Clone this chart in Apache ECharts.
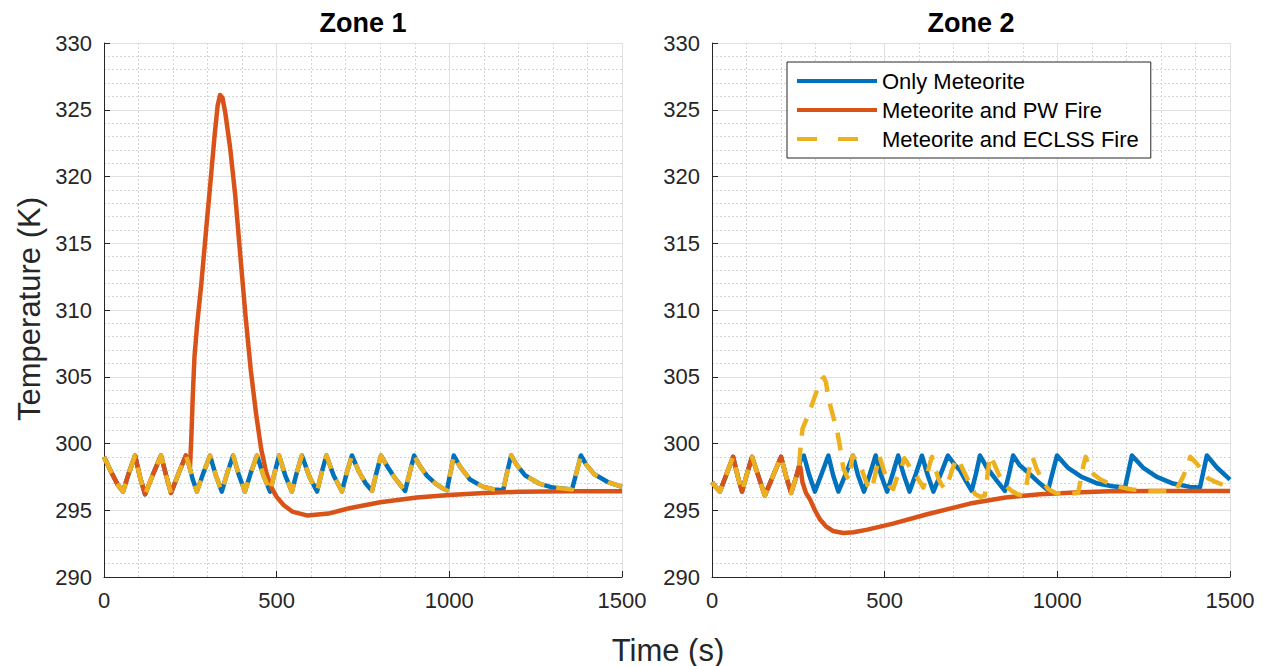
<!DOCTYPE html>
<html>
<head>
<meta charset="utf-8">
<title>Zone temperatures</title>
<script src="https://cdn.jsdelivr.net/npm/echarts@6/dist/echarts.min.js"></script>
<style>
  html, body { margin: 0; padding: 0; background: #ffffff; }
  #chart { width: 1269px; height: 666px; }
</style>
</head>
<body>
<div id="chart"></div>
<script>
// ---- Data: [time (s), temperature (K)] ----
const seriesNames = ['Only Meteorite', 'Meteorite and PW Fire', 'Meteorite and ECLSS Fire'];
const xTicks = { min: 0, max: 1500, step: 500 };
const yTicks = { min: 290, max: 330, step: 5 };

// Zone 1: common history before the events diverge
const zone1Early = [[0,299.0],[20,297.9],[40,296.9],[55,296.4],[72,297.8],[90,299.1],[105,297.4],[119,296.2],
  [142,297.7],[165,299.1],[180,297.6],[194,296.3],[215,297.7],[237,299.1],[245,298.5]];

const zone1Meteorite = [[257,297.3],[269,296.4],[288,297.8],[307,299.1],[324,297.6],[341,296.4],[357,297.8],
  [374,299.1],[391,297.6],[408,296.4],[425,297.8],[443,299.1],[462,297.6],[481,296.4],[494,297.8],[507,299.1],
  [525,297.6],[544,296.4],[558,297.8],[573,299.1],[595,297.5],[617,296.4],[630,297.8],[644,299.1],[665,297.6],
  [689,296.4],[703,297.8],[718,299.1],[738,297.9],[758,297.0],[776,296.45],[789,297.8],[802,299.1],[820,298.3],
  [840,297.5],[858,296.9],[872,296.45],[885,297.8],[898,299.1],[915,298.3],[935,297.6],[960,297.0],[980,296.65],
  [993,296.5],[1003,297.8],[1013,299.1],[1030,298.3],[1060,297.3],[1098,296.75],[1130,296.55],[1156,296.5],
  [1167,297.8],[1179,299.1],[1195,298.4],[1220,297.6],[1260,297.0],[1300,296.7],[1355,296.55],[1368,297.8],
  [1381,299.1],[1397,298.4],[1420,297.7],[1460,297.1],[1500,296.75]];

const zone1PwFire = [[249,298.2],[253,300.5],[257,303.5],[262,306.5],[270,309.0],[282,312.0],[295,315.8],
  [308,319.5],[320,323.0],[329,325.3],[336,326.1],[343,325.9],[351,324.8],[365,322.2],[380,318.6],[395,314.0],
  [410,309.5],[425,305.5],[440,302.3],[455,299.6],[470,297.8],[485,296.7],[500,296.0],[520,295.4],[545,294.9],
  [590,294.6],[650,294.75],[710,295.15],[800,295.6],[906,295.95],[1000,296.15],[1100,296.3],[1200,296.38],
  [1350,296.42],[1500,296.42]];

// In zone 1 the ECLSS fire run follows the meteorite-only run
const zone1EclssFire = zone1Meteorite;

// Zone 2: common history before the events diverge
const zone2Early = [[0,297.1],[12,296.7],[23,296.4],[42,297.7],[61,299.0],[74,297.6],[87,296.4],[101,297.7],
  [116,299.0],[135,297.5],[153,296.1],[177,297.6],[200,299.0],[214,297.6],[229,296.3],[245,297.6],[252,298.3]];

const zone2Meteorite = [[258,298.9],[266,299.1],[282,297.6],[298,296.4],[317,297.7],[337,299.1],[351,297.6],
  [366,296.4],[387,297.7],[408,299.1],[423,297.6],[440,296.4],[457,297.7],[474,299.1],[490,297.6],[507,296.4],
  [523,297.7],[539,299.1],[556,297.6],[572,296.4],[590,297.7],[608,299.1],[625,297.6],[641,296.4],[662,297.7],
  [683,299.1],[700,298.5],[718,298.0],[735,297.2],[752,296.45],[764,297.7],[776,299.1],[796,298.2],[825,297.2],
  [848,296.45],[860,297.7],[872,299.1],[890,298.4],[912,297.9],[950,297.0],[973,296.5],[986,297.8],[999,299.1],
  [1030,298.2],[1070,297.5],[1117,297.0],[1160,296.8],[1196,296.7],[1206,297.9],[1216,299.1],[1248,298.2],
  [1288,297.5],[1335,297.0],[1384,296.75],[1413,296.7],[1423,297.9],[1433,299.1],[1462,298.2],[1500,297.3]];

const zone2PwFire = [[256,298.2],[262,297.1],[272,296.3],[284,295.8],[298,295.0],[313,294.3],[330,293.8],
  [350,293.45],[380,293.3],[410,293.35],[450,293.55],[524,294.0],[623,294.7],[747,295.5],[850,295.95],
  [950,296.2],[1050,296.33],[1150,296.42],[1300,296.45],[1500,296.45]];

const zone2EclssFire = [[257,299.9],[262,301.1],[270,301.6],[280,302.2],[292,303.1],[307,304.2],[318,304.8],
  [324,304.95],[330,304.6],[337,303.4],[350,302.1],[362,301.0],[371,299.7],[380,298.2],[391,297.5],[397,297.3],
  [407,299.1],[420,298.6],[434,298.0],[450,296.9],[462,296.5],[472,297.6],[484,299.1],[500,297.8],[515,296.8],
  [525,296.6],[535,297.4],[550,298.3],[557,298.9],[565,298.6],[575,298.1],[590,297.6],[605,297.0],[612,296.7],
  [620,297.4],[632,298.6],[637,299.0],[645,298.3],[655,297.4],[665,296.9],[675,296.6],[685,297.2],[695,298.0],
  [708,298.9],[712,298.8],[722,298.3],[735,297.6],[750,296.8],[762,296.2],[778,296.0],[790,296.1],[797,297.5],
  [805,299.1],[815,298.6],[830,297.7],[845,297.0],[865,296.5],[885,296.2],[900,296.1],[908,296.5],[918,298.0],
  [928,299.0],[940,298.1],[955,297.3],[973,296.6],[995,296.3],[1022,296.2],[1060,296.3],[1068,297.3],[1075,298.3],
  [1082,299.0],[1092,298.3],[1105,297.7],[1125,297.3],[1150,297.0],[1180,296.75],[1216,296.55],[1274,296.45],
  [1340,296.45],[1352,296.9],[1364,297.5],[1378,298.4],[1385,299.0],[1400,298.6],[1413,298.2],[1436,297.4],
  [1460,297.1],[1480,296.9],[1500,296.75]];

// ---- Styling ----
const COLORS = ['#0072BD', '#D95319', '#EDB120'];
const FONT = "'Liberation Sans', Arial, Helvetica, sans-serif";
const AXIS_COLOR = '#262626';
const LINE_WIDTH = 4.5;
const DASH = [18, 12];
// Legend samples: a solid bar, and a bar with two dashes (the trailing zero-area
// sub-path keeps the icon's bounding box at the full sample width)
const ICON_SOLID = 'path://M0,0H80V4H0Z';
const ICON_DASHED = 'path://M0,0H20V4H0Z M41,0H61V4H41Z M80,0L80,4L80,0Z';

function makeXAxis(gridIndex) {
  return {
    type: 'value', gridIndex,
    min: xTicks.min, max: xTicks.max, interval: xTicks.step,
    axisLine: { show: true, onZero: false, lineStyle: { color: AXIS_COLOR, width: 1 } },
    axisTick: { show: true, inside: true, length: 6, lineStyle: { color: AXIS_COLOR } },
    axisLabel: { color: AXIS_COLOR, fontSize: 22, fontFamily: FONT, margin: 12, formatter: v => String(v) },
    splitLine: { show: true, lineStyle: { color: '#e0e0e0', width: 1 } },
    minorTick: { show: false, splitNumber: 5 },
    minorSplitLine: { show: true, lineStyle: { color: '#d6d6d6', width: 1, type: [2, 2] } }
  };
}
function makeYAxis(gridIndex) {
  return {
    type: 'value', gridIndex,
    min: yTicks.min, max: yTicks.max, interval: yTicks.step,
    axisLine: { show: true, onZero: false, lineStyle: { color: AXIS_COLOR, width: 1 } },
    axisTick: { show: true, inside: true, length: 6, lineStyle: { color: AXIS_COLOR } },
    axisLabel: { color: AXIS_COLOR, fontSize: 22, fontFamily: FONT, margin: 12, formatter: v => String(v) },
    splitLine: { show: true, lineStyle: { color: '#e0e0e0', width: 1 } },
    minorTick: { show: false, splitNumber: 5 },
    minorSplitLine: { show: true, lineStyle: { color: '#d6d6d6', width: 1, type: [2, 2] } }
  };
}
function makeLine(name, data, idx, axisIndex, dashed) {
  return {
    name, type: 'line', data,
    xAxisIndex: axisIndex, yAxisIndex: axisIndex,
    symbol: 'none', showSymbol: false, animation: false,
    color: COLORS[idx],
    lineStyle: { color: COLORS[idx], width: LINE_WIDTH, type: dashed ? DASH : 'solid', cap: 'butt', join: 'round' },
    z: 2 + idx
  };
}

const chart = echarts.init(document.getElementById('chart'), null, { renderer: 'svg' });
chart.setOption({
  backgroundColor: '#ffffff',
  animation: false,
  textStyle: { fontFamily: FONT },
  grid: [
    { left: 104, top: 43, width: 518, height: 534 },
    { left: 712, top: 43, width: 518, height: 534 }
  ],
  xAxis: [makeXAxis(0), makeXAxis(1)],
  yAxis: [makeYAxis(0), makeYAxis(1)],
  legend: {
    orient: 'vertical', left: 787, top: 62,
    itemWidth: 80, itemHeight: 4, itemGap: 7,
    padding: [8, 12, 8, 10],
    backgroundColor: '#ffffff', borderColor: AXIS_COLOR, borderWidth: 1,
    textStyle: { fontSize: 22, color: '#000000', fontFamily: FONT },
    data: [
      { name: seriesNames[0], icon: ICON_SOLID },
      { name: seriesNames[1], icon: ICON_SOLID },
      { name: seriesNames[2], icon: ICON_DASHED }
    ]
  },
  graphic: [
    { type: 'text', x: 363, y: 23, style: { text: 'Zone 1', font: "bold 27px " + FONT, fill: '#000000', align: 'center', verticalAlign: 'middle' } },
    { type: 'text', x: 971, y: 23, style: { text: 'Zone 2', font: "bold 27px " + FONT, fill: '#000000', align: 'center', verticalAlign: 'middle' } },
    { type: 'text', x: 668, y: 650, style: { text: 'Time (s)', font: "31px " + FONT, fill: AXIS_COLOR, align: 'center', verticalAlign: 'middle' } },
    { type: 'text', x: 29, y: 309, rotation: Math.PI / 2, style: { text: 'Temperature (K)', font: "31px " + FONT, fill: AXIS_COLOR, align: 'center', verticalAlign: 'middle' } }
  ],
  series: [
    makeLine(seriesNames[0], zone1Early.concat(zone1Meteorite), 0, 0, false),
    makeLine(seriesNames[1], zone1Early.concat(zone1PwFire), 1, 0, false),
    makeLine(seriesNames[2], zone1Early.concat(zone1EclssFire), 2, 0, true),
    makeLine(seriesNames[0], zone2Early.concat(zone2Meteorite), 0, 1, false),
    makeLine(seriesNames[1], zone2Early.concat(zone2PwFire), 1, 1, false),
    makeLine(seriesNames[2], zone2Early.concat(zone2EclssFire), 2, 1, true)
  ]
});
</script>
</body>
</html>
